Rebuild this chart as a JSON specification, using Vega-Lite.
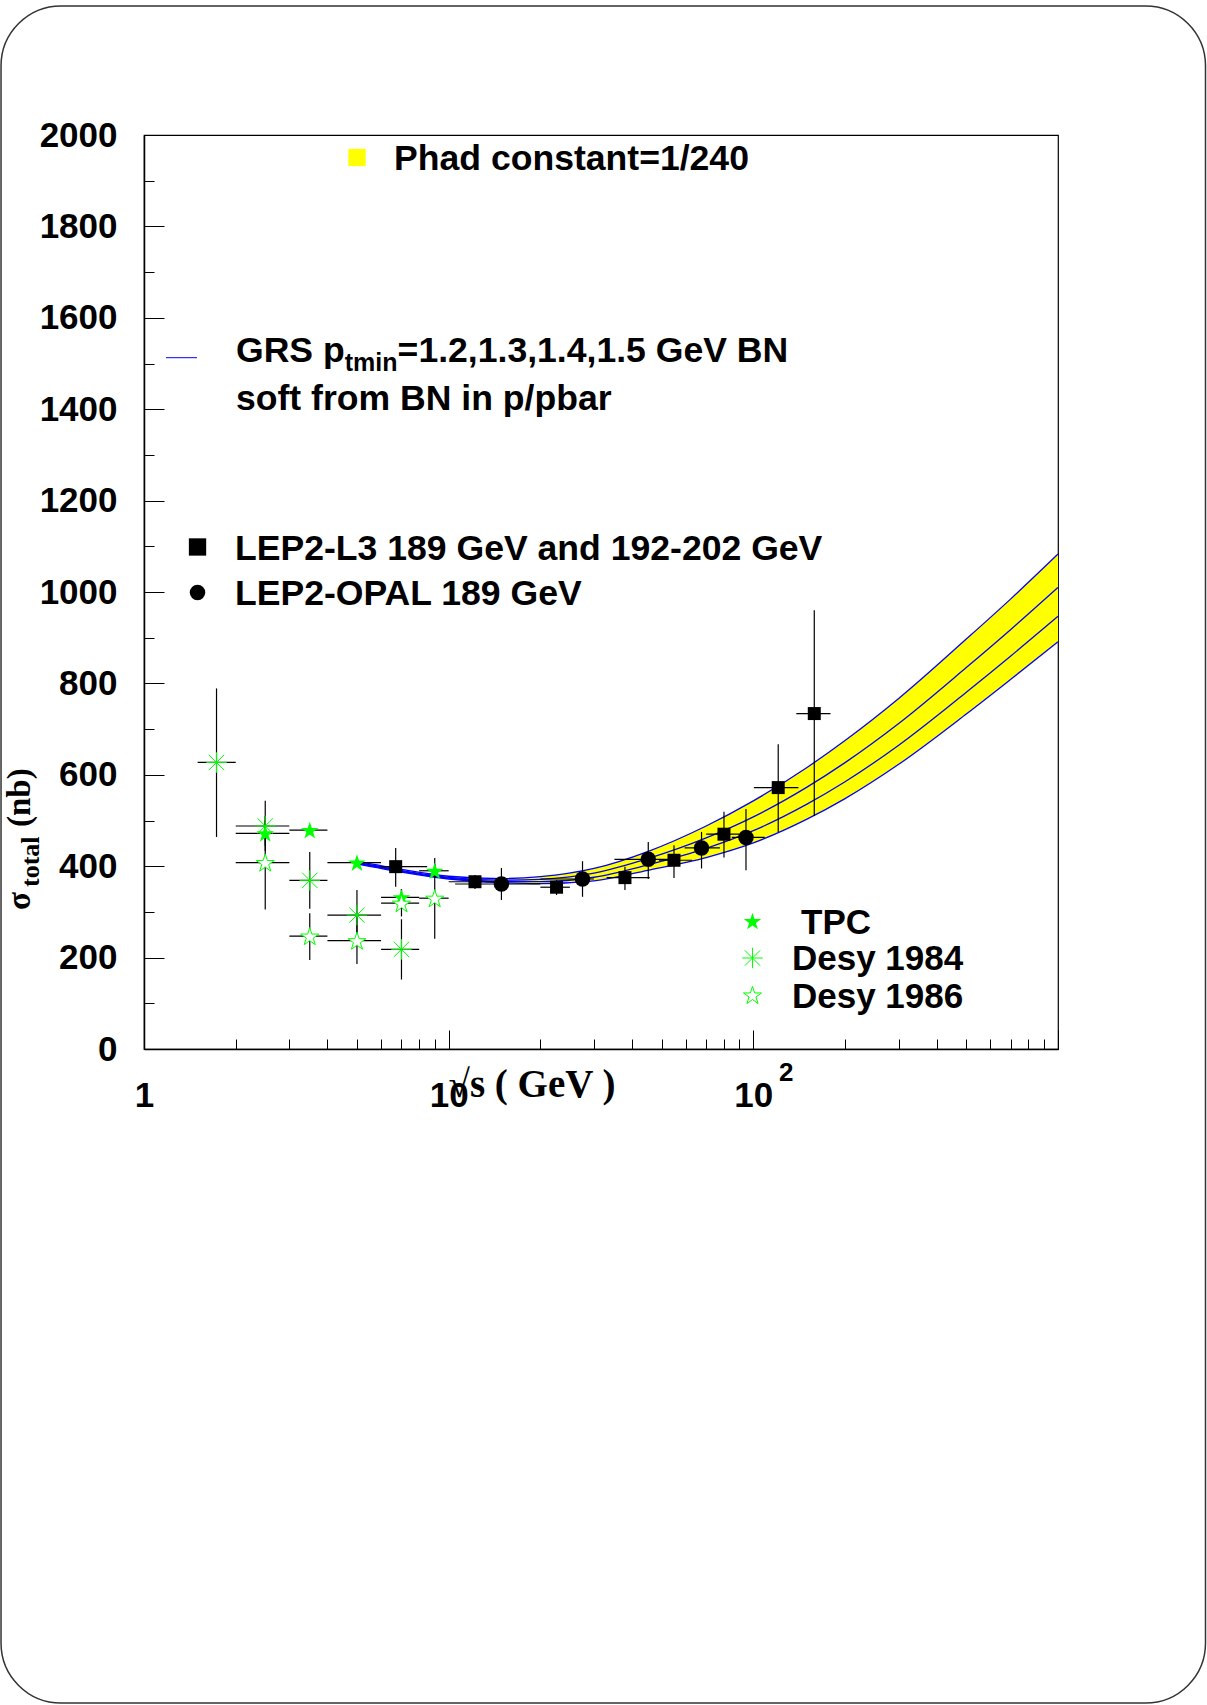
{
  "$schema": "https://vega.github.io/schema/vega-lite/v6.json",
  "width": 914,
  "height": 914,
  "autosize": {"type": "none"},
  "padding": {"left": 144, "top": 135, "right": 149, "bottom": 656},
  "background": "white",
  "config": {
    "view": {"stroke": "black", "strokeWidth": 1.2},
    "text": {"font": "Liberation Sans", "fontWeight": "bold", "fontSize": 35.6, "color": "black", "align": "left", "baseline": "alphabetic"}
  },
  "datasets": {
    "band": [
      {"x": 5, "top": 411, "bot": 405},
      {"x": 7, "top": 393, "bot": 387},
      {"x": 10, "top": 378, "bot": 372},
      {"x": 15, "top": 373, "bot": 364},
      {"x": 20, "top": 377, "bot": 362},
      {"x": 30, "top": 395, "bot": 368},
      {"x": 45, "top": 432, "bot": 391},
      {"x": 70, "top": 488, "bot": 419},
      {"x": 100, "top": 543, "bot": 451},
      {"x": 150, "top": 616, "bot": 503},
      {"x": 200, "top": 675, "bot": 548},
      {"x": 300, "top": 767, "bot": 623},
      {"x": 500, "top": 897, "bot": 733},
      {"x": 700, "top": 985, "bot": 809},
      {"x": 1000, "top": 1083, "bot": 891}
    ],
    "curves": [
      {"pt": "1.2", "x": 5, "y": 411}, {"pt": "1.2", "x": 7, "y": 393}, {"pt": "1.2", "x": 10, "y": 378}, {"pt": "1.2", "x": 15, "y": 373}, {"pt": "1.2", "x": 20, "y": 377}, {"pt": "1.2", "x": 30, "y": 395}, {"pt": "1.2", "x": 45, "y": 432}, {"pt": "1.2", "x": 70, "y": 488}, {"pt": "1.2", "x": 100, "y": 543}, {"pt": "1.2", "x": 150, "y": 616}, {"pt": "1.2", "x": 200, "y": 675}, {"pt": "1.2", "x": 300, "y": 767}, {"pt": "1.2", "x": 500, "y": 897}, {"pt": "1.2", "x": 700, "y": 985}, {"pt": "1.2", "x": 1000, "y": 1083},
      {"pt": "1.3", "x": 5, "y": 408.7}, {"pt": "1.3", "x": 7, "y": 390.7}, {"pt": "1.3", "x": 10, "y": 375.7}, {"pt": "1.3", "x": 15, "y": 369.6}, {"pt": "1.3", "x": 20, "y": 371.3}, {"pt": "1.3", "x": 30, "y": 384.7}, {"pt": "1.3", "x": 45, "y": 416.4}, {"pt": "1.3", "x": 70, "y": 461.8}, {"pt": "1.3", "x": 100, "y": 508}, {"pt": "1.3", "x": 150, "y": 573.1}, {"pt": "1.3", "x": 200, "y": 626.7}, {"pt": "1.3", "x": 300, "y": 712.3}, {"pt": "1.3", "x": 500, "y": 834.7}, {"pt": "1.3", "x": 700, "y": 918.1}, {"pt": "1.3", "x": 1000, "y": 1010},
      {"pt": "1.4", "x": 5, "y": 406.7}, {"pt": "1.4", "x": 7, "y": 388.7}, {"pt": "1.4", "x": 10, "y": 373.7}, {"pt": "1.4", "x": 15, "y": 366.6}, {"pt": "1.4", "x": 20, "y": 366.4}, {"pt": "1.4", "x": 30, "y": 375.8}, {"pt": "1.4", "x": 45, "y": 402.9}, {"pt": "1.4", "x": 70, "y": 439}, {"pt": "1.4", "x": 100, "y": 477.7}, {"pt": "1.4", "x": 150, "y": 535.8}, {"pt": "1.4", "x": 200, "y": 584.8}, {"pt": "1.4", "x": 300, "y": 664.8}, {"pt": "1.4", "x": 500, "y": 780.6}, {"pt": "1.4", "x": 700, "y": 860}, {"pt": "1.4", "x": 1000, "y": 946.7},
      {"pt": "1.5", "x": 5, "y": 405}, {"pt": "1.5", "x": 7, "y": 387}, {"pt": "1.5", "x": 10, "y": 372}, {"pt": "1.5", "x": 15, "y": 364}, {"pt": "1.5", "x": 20, "y": 362}, {"pt": "1.5", "x": 30, "y": 368}, {"pt": "1.5", "x": 45, "y": 391}, {"pt": "1.5", "x": 70, "y": 419}, {"pt": "1.5", "x": 100, "y": 451}, {"pt": "1.5", "x": 150, "y": 503}, {"pt": "1.5", "x": 200, "y": 548}, {"pt": "1.5", "x": 300, "y": 623}, {"pt": "1.5", "x": 500, "y": 733}, {"pt": "1.5", "x": 700, "y": 809}, {"pt": "1.5", "x": 1000, "y": 891}
    ],
    "points": [
      {"set": "L3", "x": 6.7, "y": 399, "xlo": 6.0, "xhi": 8.5, "ylo": 355, "yhi": 440},
      {"set": "L3", "x": 12.2, "y": 366, "xlo": 10, "xhi": 15, "ylo": 350, "yhi": 381},
      {"set": "L3", "x": 22.6, "y": 354, "xlo": 20, "xhi": 25, "ylo": 337, "yhi": 370},
      {"set": "L3", "x": 37.9, "y": 375, "xlo": 33, "xhi": 45.7, "ylo": 348, "yhi": 399},
      {"set": "L3", "x": 54.9, "y": 413, "xlo": 49, "xhi": 63, "ylo": 374, "yhi": 446},
      {"set": "L3", "x": 80.1, "y": 470, "xlo": 70, "xhi": 90, "ylo": 419, "yhi": 519},
      {"set": "L3", "x": 120.7, "y": 572, "xlo": 100.4, "xhi": 140.6, "ylo": 475, "yhi": 667},
      {"set": "L3", "x": 158.5, "y": 734, "xlo": 138.4, "xhi": 179.2, "ylo": 510, "yhi": 960},
      {"set": "OPAL", "x": 14.9, "y": 361, "xlo": 10.5, "xhi": 20, "ylo": 326, "yhi": 396},
      {"set": "OPAL", "x": 27.5, "y": 372, "xlo": 20, "xhi": 30, "ylo": 333, "yhi": 411},
      {"set": "OPAL", "x": 45.2, "y": 415, "xlo": 35, "xhi": 55, "ylo": 372, "yhi": 453},
      {"set": "OPAL", "x": 67.6, "y": 440, "xlo": 59.5, "xhi": 77.7, "ylo": 395, "yhi": 475},
      {"set": "OPAL", "x": 94.6, "y": 463, "xlo": 85, "xhi": 109, "ylo": 391, "yhi": 525},
      {"set": "TPC", "x": 2.5, "y": 472, "xlo": 2, "xhi": 3, "ylo": 445, "yhi": 500},
      {"set": "TPC", "x": 3.5, "y": 479, "xlo": 3, "xhi": 4, "ylo": 470, "yhi": 488},
      {"set": "TPC", "x": 5.0, "y": 408, "xlo": 4, "xhi": 6, "ylo": 400, "yhi": 416},
      {"set": "TPC", "x": 7.0, "y": 332, "xlo": 6, "xhi": 8, "ylo": 315, "yhi": 350},
      {"set": "TPC", "x": 9.0, "y": 390, "xlo": 8, "xhi": 10, "ylo": 375, "yhi": 405},
      {"set": "D84", "x": 1.73, "y": 627, "xlo": 1.5, "xhi": 2.0, "ylo": 464, "yhi": 789},
      {"set": "D84", "x": 2.5, "y": 488, "xlo": 2, "xhi": 3, "ylo": 433, "yhi": 543},
      {"set": "D84", "x": 3.5, "y": 369, "xlo": 3, "xhi": 4, "ylo": 307, "yhi": 431},
      {"set": "D84", "x": 5.0, "y": 293, "xlo": 4, "xhi": 6, "ylo": 238, "yhi": 348},
      {"set": "D84", "x": 7.0, "y": 218, "xlo": 6, "xhi": 8, "ylo": 152, "yhi": 284},
      {"set": "D86", "x": 2.5, "y": 408, "xlo": 2, "xhi": 3, "ylo": 305, "yhi": 510},
      {"set": "D86", "x": 3.5, "y": 247, "xlo": 3, "xhi": 4, "ylo": 195, "yhi": 297},
      {"set": "D86", "x": 5.0, "y": 237, "xlo": 4, "xhi": 6, "ylo": 186, "yhi": 288},
      {"set": "D86", "x": 7.0, "y": 319, "xlo": 6, "xhi": 8, "ylo": 290, "yhi": 350},
      {"set": "D86", "x": 9.0, "y": 330, "xlo": 8, "xhi": 10, "ylo": 241, "yhi": 418}
    ]
  },
  "layer": [
    {
      "data": {"name": "band"},
      "mark": {"type": "area", "color": "#ffff00", "interpolate": "monotone"},
      "encoding": {
        "x": {"field": "x", "type": "quantitative", "scale": {"type": "log", "domain": [1, 1000], "nice": false},
          "axis": {
            "values": [1, 2, 3, 4, 5, 6, 7, 8, 9, 10, 20, 30, 40, 50, 60, 70, 80, 90, 100, 200, 300, 400, 500, 600, 700, 800, 900, 1000],
            "labelExpr": "datum.value == 1 ? '1' : (datum.value == 10 || datum.value == 100) ? '10' : ''",
            "tickSize": -10,
            "tickColor": "black", "tickWidth": 1,
            "domainColor": "black", "domainWidth": 1.3,
            "grid": true, "gridColor": "black", "gridWidth": 1, "gridDash": [0, 895, 19, 100],
            "gridOpacity": {"condition": {"test": "datum.value == 1 || datum.value == 10 || datum.value == 100 || datum.value == 1000", "value": 1}, "value": 0},
            "labelFont": "Liberation Sans", "labelFontWeight": "bold", "labelFontSize": 35, "labelColor": "black",
            "labelPadding": 39.4, "labelBaseline": "top", "labelAlign": "center", "labelFlush": false, "labelOverlap": false, "labelBound": false,
            "title": "√s ( GeV )", "titleFont": "Liberation Serif", "titleFontWeight": "bold", "titleFontSize": 39, "titleColor": "black",
            "titleX": 304, "titleY": 47, "titleAlign": "left", "titleBaseline": "alphabetic", "titleAnchor": "start"
          }
        },
        "y": {"field": "top", "type": "quantitative", "scale": {"domain": [0, 2000], "nice": false, "zero": false},
          "axis": {
            "values": [0, 50, 100, 150, 200, 250, 300, 350, 400, 450, 500, 550, 600, 650, 700, 750, 800, 850, 900, 950, 1000, 1050, 1100, 1150, 1200, 1250, 1300, 1350, 1400, 1450, 1500, 1550, 1600, 1650, 1700, 1750, 1800, 1850, 1900, 1950, 2000],
            "format": "d",
            "labelExpr": "datum.value % 200 == 0 ? datum.label : ''",
            "tickSize": -10,
            "tickColor": "black", "tickWidth": 1,
            "domainColor": "black", "domainWidth": 1.5,
            "grid": true, "gridColor": "black", "gridWidth": 1, "gridDash": [20, 2000],
            "gridOpacity": {"condition": {"test": "datum.value % 200 == 0", "value": 1}, "value": 0},
            "labelFont": "Liberation Sans", "labelFontWeight": "bold", "labelFontSize": 35, "labelColor": "black",
            "labelPadding": 37, "labelAlign": "right", "labelBaseline": "middle", "labelFlush": false, "labelOverlap": false, "labelBound": false,
            "title": null
          }
        },
        "y2": {"field": "bot"}
      }
    },
    {
      "data": {"name": "curves"},
      "mark": {"type": "line", "color": "#0000ff", "strokeWidth": 1.3, "interpolate": "monotone"},
      "encoding": {
        "x": {"field": "x", "type": "quantitative", "scale": {"type": "log", "domain": [1, 1000], "nice": false}},
        "y": {"field": "y", "type": "quantitative", "scale": {"domain": [0, 2000], "nice": false, "zero": false}},
        "detail": {"field": "pt", "type": "nominal"}
      }
    },
    {
      "data": {"name": "points"},
      "mark": {"type": "rule", "color": "black", "strokeWidth": 1.2},
      "encoding": {
        "x": {"field": "xlo", "type": "quantitative", "scale": {"type": "log", "domain": [1, 1000], "nice": false}},
        "x2": {"field": "xhi"},
        "y": {"field": "y", "type": "quantitative", "scale": {"domain": [0, 2000], "nice": false, "zero": false}}
      }
    },
    {
      "data": {"name": "points"},
      "mark": {"type": "rule", "color": "black", "strokeWidth": 1.2},
      "encoding": {
        "x": {"field": "x", "type": "quantitative", "scale": {"type": "log", "domain": [1, 1000], "nice": false}},
        "y": {"field": "ylo", "type": "quantitative", "scale": {"domain": [0, 2000], "nice": false, "zero": false}},
        "y2": {"field": "yhi"}
      }
    },
    {
      "data": {"name": "points"},
      "transform": [{"filter": "datum.set == 'L3'"}],
      "mark": {"type": "point", "shape": "square", "filled": true, "color": "black", "size": 169, "opacity": 1},
      "encoding": {
        "x": {"field": "x", "type": "quantitative", "scale": {"type": "log", "domain": [1, 1000], "nice": false}},
        "y": {"field": "y", "type": "quantitative", "scale": {"domain": [0, 2000], "nice": false, "zero": false}}
      }
    },
    {
      "data": {"name": "points"},
      "transform": [{"filter": "datum.set == 'OPAL'"}],
      "mark": {"type": "point", "shape": "circle", "filled": true, "color": "black", "size": 240, "opacity": 1},
      "encoding": {
        "x": {"field": "x", "type": "quantitative", "scale": {"type": "log", "domain": [1, 1000], "nice": false}},
        "y": {"field": "y", "type": "quantitative", "scale": {"domain": [0, 2000], "nice": false, "zero": false}}
      }
    },
    {
      "data": {"name": "points"},
      "transform": [{"filter": "datum.set == 'TPC'"}],
      "mark": {"type": "point", "shape": "M0,-0.905L0.2245,-0.214L0.951,-0.214L0.363,0.213L0.588,0.904L0,0.477L-0.588,0.904L-0.363,0.213L-0.951,-0.214L-0.2245,-0.214Z", "filled": true, "color": "#00ff00", "size": 340, "opacity": 1},
      "encoding": {
        "x": {"field": "x", "type": "quantitative", "scale": {"type": "log", "domain": [1, 1000], "nice": false}},
        "y": {"field": "y", "type": "quantitative", "scale": {"domain": [0, 2000], "nice": false, "zero": false}}
      }
    },
    {
      "data": {"name": "points"},
      "transform": [{"filter": "datum.set == 'D84'"}],
      "mark": {"type": "point", "shape": "M-1,0L1,0M0,-1L0,1M-0.75,-0.75L0.75,0.75M-0.75,0.75L0.75,-0.75", "filled": false, "stroke": "#00ff00", "strokeWidth": 1, "size": 420, "opacity": 1},
      "encoding": {
        "x": {"field": "x", "type": "quantitative", "scale": {"type": "log", "domain": [1, 1000], "nice": false}},
        "y": {"field": "y", "type": "quantitative", "scale": {"domain": [0, 2000], "nice": false, "zero": false}}
      }
    },
    {
      "data": {"name": "points"},
      "transform": [{"filter": "datum.set == 'D86'"}],
      "mark": {"type": "point", "shape": "M0,-0.905L0.2245,-0.214L0.951,-0.214L0.363,0.213L0.588,0.904L0,0.477L-0.588,0.904L-0.363,0.213L-0.951,-0.214L-0.2245,-0.214Z", "filled": false, "fill": "white", "stroke": "#00ff00", "strokeWidth": 1, "size": 360, "opacity": 1},
      "encoding": {
        "x": {"field": "x", "type": "quantitative", "scale": {"type": "log", "domain": [1, 1000], "nice": false}},
        "y": {"field": "y", "type": "quantitative", "scale": {"domain": [0, 2000], "nice": false, "zero": false}}
      }
    },
    {
      "data": {"values": [{}]},
      "mark": {"type": "point", "shape": "square", "filled": true, "color": "#ffff00", "size": 300, "opacity": 1},
      "encoding": {
        "x": {"datum": 5.002, "type": "quantitative", "scale": {"type": "log", "domain": [1, 1000], "nice": false}},
        "y": {"datum": 1950.8, "type": "quantitative", "scale": {"domain": [0, 2000], "nice": false, "zero": false}}
      }
    },
    {
      "data": {"values": [{}]},
      "mark": {"type": "text", "text": "Phad constant=1/240"},
      "encoding": {
        "x": {"datum": 6.616, "type": "quantitative", "scale": {"type": "log", "domain": [1, 1000], "nice": false}},
        "y": {"datum": 1923.4, "type": "quantitative", "scale": {"domain": [0, 2000], "nice": false, "zero": false}}
      }
    },
    {
      "data": {"values": [{}]},
      "mark": {"type": "rule", "color": "#0000ff", "strokeWidth": 1},
      "encoding": {
        "x": {"datum": 1.1808, "type": "quantitative", "scale": {"type": "log", "domain": [1, 1000], "nice": false}},
        "x2": {"datum": 1.4926},
        "y": {"datum": 1512.7, "type": "quantitative", "scale": {"domain": [0, 2000], "nice": false, "zero": false}}
      }
    },
    {
      "data": {"values": [{}]},
      "mark": {"type": "text", "text": "GRS p"},
      "encoding": {
        "x": {"datum": 2.004, "type": "quantitative", "scale": {"type": "log", "domain": [1, 1000], "nice": false}},
        "y": {"datum": 1502.2, "type": "quantitative", "scale": {"domain": [0, 2000], "nice": false, "zero": false}}
      }
    },
    {
      "data": {"values": [{}]},
      "mark": {"type": "text", "text": "tmin", "fontSize": 25},
      "encoding": {
        "x": {"datum": 4.5606, "type": "quantitative", "scale": {"type": "log", "domain": [1, 1000], "nice": false}},
        "y": {"datum": 1482.5, "type": "quantitative", "scale": {"domain": [0, 2000], "nice": false, "zero": false}}
      }
    },
    {
      "data": {"values": [{}]},
      "mark": {"type": "text", "text": "=1.2,1.3,1.4,1.5 GeV BN"},
      "encoding": {
        "x": {"datum": 6.799, "type": "quantitative", "scale": {"type": "log", "domain": [1, 1000], "nice": false}},
        "y": {"datum": 1502.2, "type": "quantitative", "scale": {"domain": [0, 2000], "nice": false, "zero": false}}
      }
    },
    {
      "data": {"values": [{}]},
      "mark": {"type": "text", "text": "soft from BN in p/pbar"},
      "encoding": {
        "x": {"datum": 2.004, "type": "quantitative", "scale": {"type": "log", "domain": [1, 1000], "nice": false}},
        "y": {"datum": 1399.3, "type": "quantitative", "scale": {"domain": [0, 2000], "nice": false, "zero": false}}
      }
    },
    {
      "data": {"values": [{}]},
      "mark": {"type": "point", "shape": "square", "filled": true, "color": "black", "size": 300, "opacity": 1},
      "encoding": {
        "x": {"datum": 1.4985, "type": "quantitative", "scale": {"type": "log", "domain": [1, 1000], "nice": false}},
        "y": {"datum": 1098.5, "type": "quantitative", "scale": {"domain": [0, 2000], "nice": false, "zero": false}}
      }
    },
    {
      "data": {"values": [{}]},
      "mark": {"type": "text", "text": "LEP2-L3 189 GeV and 192-202 GeV"},
      "encoding": {
        "x": {"datum": 1.989, "type": "quantitative", "scale": {"type": "log", "domain": [1, 1000], "nice": false}},
        "y": {"datum": 1071.1, "type": "quantitative", "scale": {"domain": [0, 2000], "nice": false, "zero": false}}
      }
    },
    {
      "data": {"values": [{}]},
      "mark": {"type": "point", "shape": "circle", "filled": true, "color": "black", "size": 240, "opacity": 1},
      "encoding": {
        "x": {"datum": 1.4985, "type": "quantitative", "scale": {"type": "log", "domain": [1, 1000], "nice": false}},
        "y": {"datum": 998.7, "type": "quantitative", "scale": {"domain": [0, 2000], "nice": false, "zero": false}}
      }
    },
    {
      "data": {"values": [{}]},
      "mark": {"type": "text", "text": "LEP2-OPAL 189 GeV"},
      "encoding": {
        "x": {"datum": 1.989, "type": "quantitative", "scale": {"type": "log", "domain": [1, 1000], "nice": false}},
        "y": {"datum": 971.6, "type": "quantitative", "scale": {"domain": [0, 2000], "nice": false, "zero": false}}
      }
    },
    {
      "data": {"values": [{}]},
      "mark": {"type": "point", "shape": "M0,-0.905L0.2245,-0.214L0.951,-0.214L0.363,0.213L0.588,0.904L0,0.477L-0.588,0.904L-0.363,0.213L-0.951,-0.214L-0.2245,-0.214Z", "filled": true, "color": "#00ff00", "size": 340, "opacity": 1},
      "encoding": {
        "x": {"datum": 99.37, "type": "quantitative", "scale": {"type": "log", "domain": [1, 1000], "nice": false}},
        "y": {"datum": 280.1, "type": "quantitative", "scale": {"domain": [0, 2000], "nice": false, "zero": false}}
      }
    },
    {
      "data": {"values": [{}]},
      "mark": {"type": "text", "text": "TPC", "fontSize": 35},
      "encoding": {
        "x": {"datum": 143.4, "type": "quantitative", "scale": {"type": "log", "domain": [1, 1000], "nice": false}},
        "y": {"datum": 252.7, "type": "quantitative", "scale": {"domain": [0, 2000], "nice": false, "zero": false}}
      }
    },
    {
      "data": {"values": [{}]},
      "mark": {"type": "point", "shape": "M-1,0L1,0M0,-1L0,1M-0.75,-0.75L0.75,0.75M-0.75,0.75L0.75,-0.75", "filled": false, "stroke": "#00ff00", "strokeWidth": 1, "size": 420, "opacity": 1},
      "encoding": {
        "x": {"datum": 99.37, "type": "quantitative", "scale": {"type": "log", "domain": [1, 1000], "nice": false}},
        "y": {"datum": 199.1, "type": "quantitative", "scale": {"domain": [0, 2000], "nice": false, "zero": false}}
      }
    },
    {
      "data": {"values": [{}]},
      "mark": {"type": "text", "text": "Desy 1984", "fontSize": 35},
      "encoding": {
        "x": {"datum": 133.9, "type": "quantitative", "scale": {"type": "log", "domain": [1, 1000], "nice": false}},
        "y": {"datum": 171.8, "type": "quantitative", "scale": {"domain": [0, 2000], "nice": false, "zero": false}}
      }
    },
    {
      "data": {"values": [{}]},
      "mark": {"type": "point", "shape": "M0,-0.905L0.2245,-0.214L0.951,-0.214L0.363,0.213L0.588,0.904L0,0.477L-0.588,0.904L-0.363,0.213L-0.951,-0.214L-0.2245,-0.214Z", "filled": false, "fill": "white", "stroke": "#00ff00", "strokeWidth": 1, "size": 360, "opacity": 1},
      "encoding": {
        "x": {"datum": 99.37, "type": "quantitative", "scale": {"type": "log", "domain": [1, 1000], "nice": false}},
        "y": {"datum": 118.2, "type": "quantitative", "scale": {"domain": [0, 2000], "nice": false, "zero": false}}
      }
    },
    {
      "data": {"values": [{}]},
      "mark": {"type": "text", "text": "Desy 1986", "fontSize": 35},
      "encoding": {
        "x": {"datum": 133.9, "type": "quantitative", "scale": {"type": "log", "domain": [1, 1000], "nice": false}},
        "y": {"datum": 90.8, "type": "quantitative", "scale": {"domain": [0, 2000], "nice": false, "zero": false}}
      }
    },
    {
      "data": {"values": [{}]},
      "mark": {"type": "text", "text": "2", "fontSize": 26},
      "encoding": {
        "x": {"datum": 121.4, "type": "quantitative", "scale": {"type": "log", "domain": [1, 1000], "nice": false}},
        "y": {"datum": -70.0, "type": "quantitative", "scale": {"domain": [0, 2000], "nice": false, "zero": false}}
      }
    },
    {
      "data": {"values": [{}]},
      "mark": {"type": "text", "text": "σ", "font": "Liberation Serif", "fontSize": 33, "angle": 270},
      "encoding": {
        "x": {"datum": 0.4224, "type": "quantitative", "scale": {"type": "log", "domain": [1, 1000], "nice": false}},
        "y": {"datum": 304.2, "type": "quantitative", "scale": {"domain": [0, 2000], "nice": false, "zero": false}}
      }
    },
    {
      "data": {"values": [{}]},
      "mark": {"type": "text", "text": "total", "font": "Liberation Serif", "fontSize": 26, "angle": 270},
      "encoding": {
        "x": {"datum": 0.4519, "type": "quantitative", "scale": {"type": "log", "domain": [1, 1000], "nice": false}},
        "y": {"datum": 354.5, "type": "quantitative", "scale": {"domain": [0, 2000], "nice": false, "zero": false}}
      }
    },
    {
      "data": {"values": [{}]},
      "mark": {"type": "text", "text": "(nb)", "font": "Liberation Serif", "fontSize": 33, "angle": 270},
      "encoding": {
        "x": {"datum": 0.4224, "type": "quantitative", "scale": {"type": "log", "domain": [1, 1000], "nice": false}},
        "y": {"datum": 485.8, "type": "quantitative", "scale": {"domain": [0, 2000], "nice": false, "zero": false}}
      }
    },
    {
      "data": {"values": [{}]},
      "mark": {"type": "rect", "filled": false, "stroke": "#333333", "strokeWidth": 1.5, "cornerRadius": 60},
      "encoding": {
        "x": {"datum": 0.3394, "type": "quantitative", "scale": {"type": "log", "domain": [1, 1000], "nice": false}},
        "x2": {"datum": 3049},
        "y": {"datum": 2282.3, "type": "quantitative", "scale": {"domain": [0, 2000], "nice": false, "zero": false}},
        "y2": {"datum": -1431.1}
      }
    }
  ]
}
